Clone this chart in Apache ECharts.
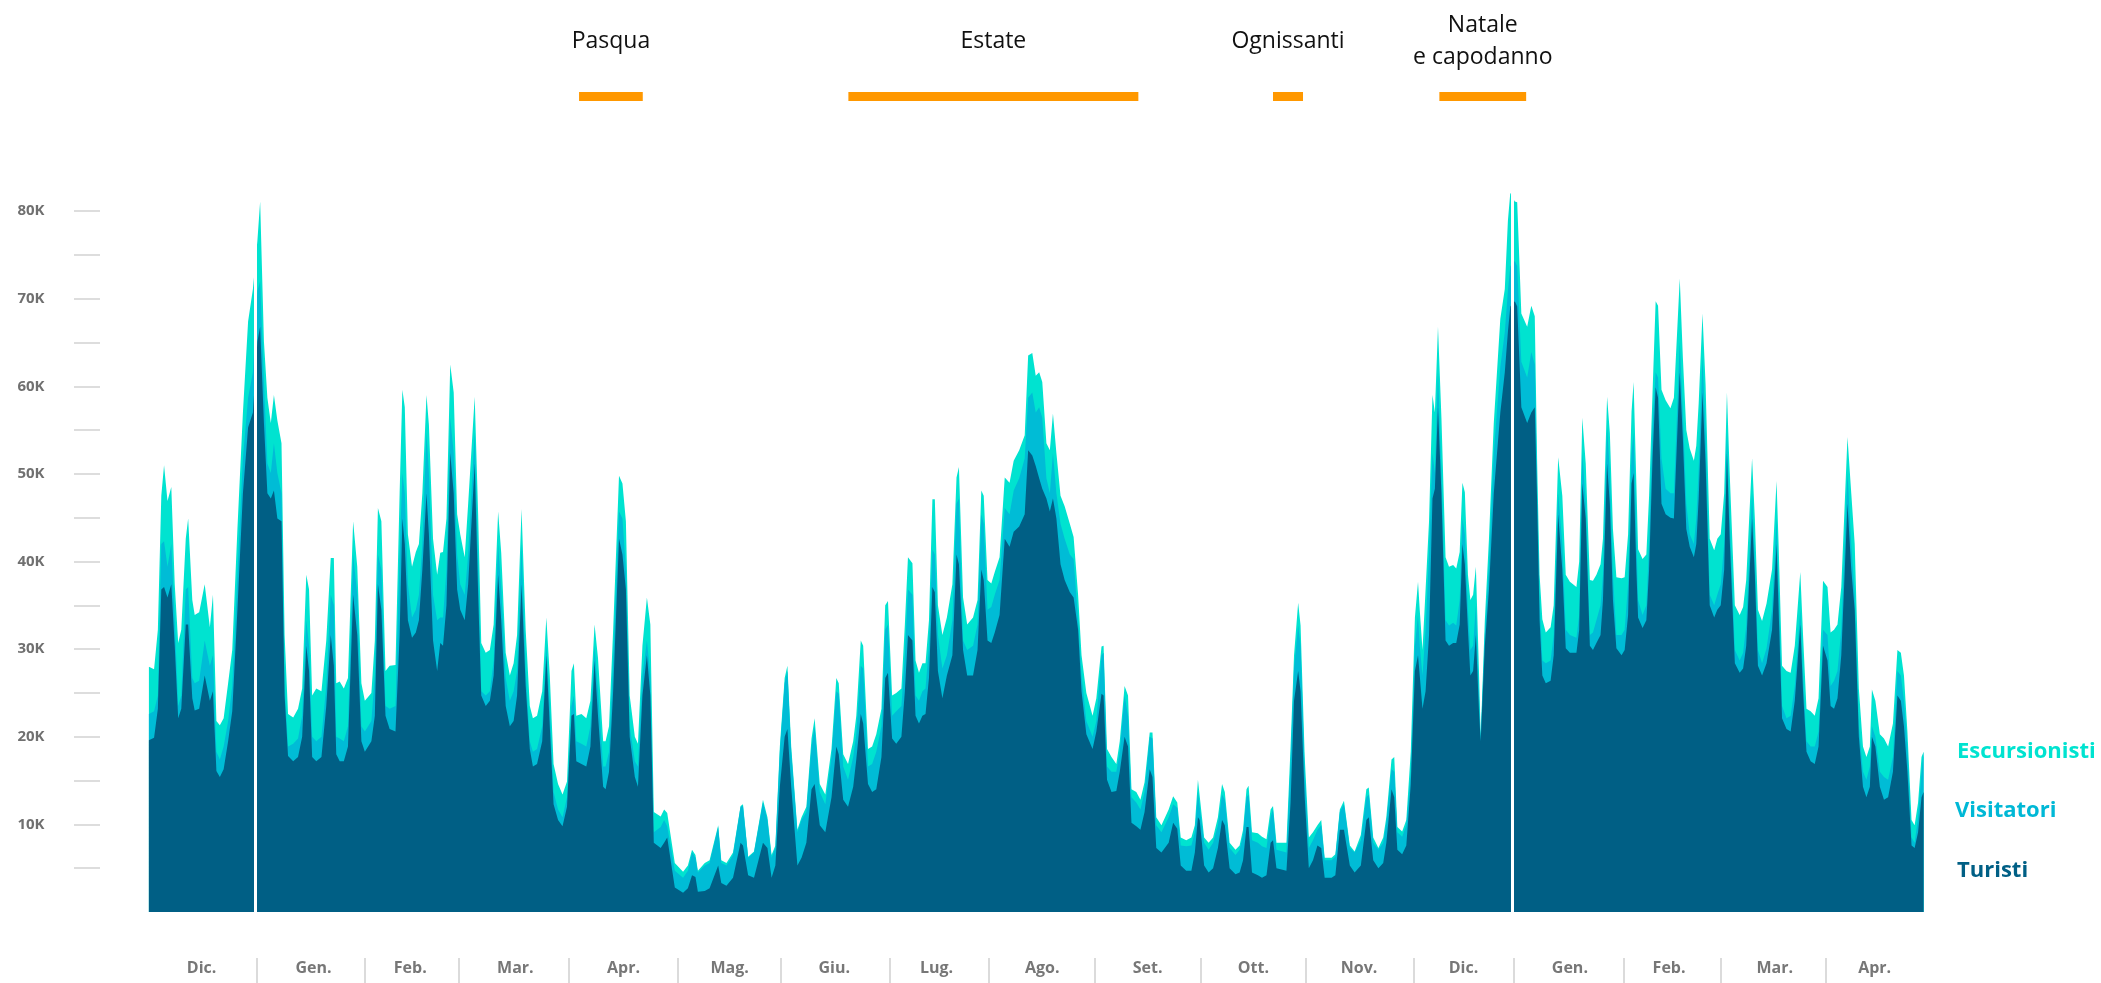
<!DOCTYPE html>
<html>
<head>
<meta charset="utf-8">
<script src="https://cdn.jsdelivr.net/npm/echarts@6/dist/echarts.min.js"></script>
<style>
  html, body { margin: 0; padding: 0; background: #fff; }
  #main { width: 2101px; height: 983px; }
</style>
</head>
<body>
<div id="main"></div>
<script>
// giorni dal 1 dicembre
const days = [
  0, 1.5, 2.6, 3.6, 4.4, 5.4, 6.5, 7.5, 8.5, 9.4,
  10.7, 11.4, 12.6, 13.3, 14.6, 16.2, 17.7, 18.6, 19.6, 20.6,
  21.7, 23, 24.2, 25.7, 27.3, 28.8, 30.2, 31.5, 32.3, 33.4,
  34.4, 35.4, 36.3, 37.3, 38.5, 39.4, 40.4, 41.9, 43.3, 44.5,
  45.7, 46.5, 47.4, 48.6, 50.1, 51.5, 52.8, 53.7, 54.4, 55.4,
  56.6, 57.8, 59.3, 60.5, 61.7, 62.7, 64.6, 65.6, 66.5, 67.5,
  68.7, 69.9, 71.6, 72.8, 73.6, 74.3, 75.2, 76.4, 77.5, 78.4,
  79.4, 80.6, 81.3, 82.5, 83.7, 84.6, 85.4, 86.4, 87.5, 88.5,
  89.5, 90.4, 91.7, 92.7, 94.6, 95.6, 96.5, 97.8, 99, 100.1,
  101.4, 102.3, 103.6, 104.8, 105.9, 106.9, 108.2, 109.4, 110.6, 111.5,
  112.7, 114.2, 115.4, 116.4, 117.5, 118.8, 120.1, 121.4, 122.7, 123.4,
  124.1, 125.6, 127, 128.2, 129.4, 130.4, 131.9, 132.6, 133.6, 134.8,
  136.5, 137.5, 138.5, 139.6, 141.1, 142, 143.3, 144.6, 145.6, 146.6,
  148.6, 149.6, 150.5, 152.7, 155.1, 156.5, 157.7, 158.7, 159.4, 161.4,
  162.8, 165.3, 166.2, 167.7, 169.6, 171.8, 172.5, 174, 175.7, 178.3,
  179.6, 180.8, 181.9, 183.2, 184.6, 185.4, 186.5, 188.3, 189.5, 190.9,
  192.4, 193.3, 194.8, 196.4, 198.2, 199.6, 200.3, 201.6, 203, 204.5,
  205.4, 206.7, 207.4, 208.8, 210, 211.2, 212.7, 213.8, 214.6, 215.8,
  217, 218.5, 219.5, 220.4, 221.7, 222.6, 223.6, 224.6, 225.5, 226.5,
  227.5, 228.2, 229.1, 230.4, 231.7, 233.3, 234.5, 235.2, 236.4, 237.6,
  239.3, 240.6, 241.7, 242.4, 243.5, 244.6, 245.6, 247, 248.5, 249.9,
  251.1, 252.7, 254.3, 255.3, 256.5, 257.5, 258.5, 259.4, 260.6, 261.6,
  262.5, 263.5, 264.7, 265.9, 267.4, 268.5, 269.8, 270.8, 272.2, 274,
  275.1, 276.6, 277.2, 278.2, 279.5, 280.9, 281.9, 283.3, 284.3, 285.3,
  286.7, 287.9, 289.1, 290.6, 291.4, 292.5, 294, 296.1, 297.4, 298.6,
  299.6, 301.2, 302.7, 303.7, 304.6, 305.1, 306.4, 307.7, 309, 310.4,
  311.6, 312.4, 313.8, 315.5, 316.7, 317.7, 318.7, 319.3, 320.3, 322,
  323.2, 324.5, 325.7, 326.4, 327.4, 330.3, 331.5, 332.5, 333.7, 334.4,
  335.6, 336.8, 338, 339.3, 340.4, 341.4, 343.4, 344.5, 345.8, 347,
  348.7, 350.1, 351.9, 353.5, 354.2, 355.5, 357, 358.4, 359.3, 360.8,
  361.6, 362.5, 363.9, 365.1, 366.4, 367.6, 368.5, 369, 369.8, 370.7,
  371.7, 372.7, 373.4, 374.3, 375.3, 376.5, 377.5, 378.7, 379.6, 380.6,
  381.4, 382.1, 383, 383.7, 384.5, 385.3, 386.2, 386.7, 387.9, 389.1,
  390.5, 392.4, 393.7, 394.6, 395.3, 396.6, 397.3, 398.5, 400.2, 401.4,
  402.4, 403.1, 403.8, 404.6, 405.6, 407, 407.9, 409.2, 410.4, 411.4,
  412.6, 414.5, 415.3, 416.2, 417.2, 418.4, 419.3, 420.3, 421.5, 422.2,
  423.4, 424.2, 425.1, 426.1, 427.6, 428.5, 429.5, 430.5, 431.1, 431.9,
  432.4, 433.7, 434.8, 435.6, 436.6, 437.5, 438.2, 439.2, 440.4, 441.8,
  442.8, 444.5, 445.4, 446.4, 447.4, 448.6, 449.3, 450, 451.1, 452,
  453.2, 454.5, 455.4, 456.4, 457.4, 458.2, 459, 460.5, 461.9, 462.9,
  463.8, 465.5, 466.3, 467.2, 468.4, 469.7, 471.3, 472.6, 473.2, 474.2,
  475.5, 476.7, 477.9, 479.5, 480.3, 481.3, 482.5, 483.7, 484.8, 486.1,
  487.4, 488.3, 489.3, 490.3, 491.4, 493.2, 494.3, 495.3, 496.5, 497.7,
  498.7, 499.7, 500.3, 501.3, 502.6, 503.8, 505, 506.4, 507.7, 508.7,
  509.6, 510.6, 511.8, 512.7, 513.7, 514.7, 515.3
]

// migliaia
const escursionisti = [
  28, 27.7, 32.2, 47.5, 51, 46.9, 48.5, 37.4, 30.7, 32.2,
  42.6, 44.9, 35.6, 33.9, 34.2, 37.4, 32.5, 36.2, 21.8, 21.3,
  22.1, 26.1, 29.9, 43.7, 57, 67.4, 71.1, 76.6, 81.1, 65.1,
  58.7, 55.8, 59, 56.1, 53.5, 31.6, 22.6, 22.2, 23.2, 25.5,
  38.5, 36.8, 24.7, 25.5, 25.2, 31, 40.4, 40.4, 26.1, 26.3,
  25.5, 26.7, 44.6, 39.4, 26.1, 24.1, 25, 31, 46.1, 44.6,
  27.5, 28.1, 28.2, 47.8, 59.6, 57.6, 43.1, 39.4, 41.1, 42,
  47.8, 59, 55.6, 42.6, 38.5, 41, 41.1, 44.9, 62.5, 59.3,
  45.4, 43.1, 40.5, 46.6, 58.8, 45.4, 30.7, 29.6, 29.9, 32.8,
  45.7, 41, 29.6, 27, 28.4, 31.6, 46, 32.2, 23.5, 22.1,
  22.4, 25.2, 33.6, 27, 16.9, 14.6, 13.4, 14.9, 27.5, 28.4,
  22.4, 22.6, 22.1, 24.1, 32.8, 29, 19.5, 19.5, 21.2, 32.2,
  49.8, 48.9, 44.6, 24.7, 20, 19.2, 30.4, 35.9, 32.8, 11.4,
  10.9, 11.7, 11.3, 5.6, 4.6, 5.3, 7.1, 6.5, 4.7, 5.6,
  5.9, 9.9, 5.9, 5.6, 6.8, 12.1, 12.3, 6.3, 6.9, 12.8,
  10.8, 6.5, 7.6, 18.9, 26.7, 28.1, 18.9, 9.4, 10.8, 12,
  19.8, 22.1, 14.6, 13.4, 18.6, 26.7, 26.1, 18, 16.9, 19.5,
  22.4, 31, 30.4, 18.6, 18.9, 20.3, 23.2, 35, 35.5, 24.7,
  25, 25.5, 32.8, 40.5, 39.8, 28.7, 27.3, 28.4, 28.4, 33.3,
  47.1, 47.1, 35, 31.6, 33.6, 37.4, 49.6, 50.8, 35.9, 32.8,
  33.6, 35.6, 48.1, 47.5, 37.9, 37.5, 38.8, 40.5, 49.6, 49,
  51.5, 52.7, 54.4, 63.5, 63.8, 61.2, 61.6, 60.5, 53.5, 52.7,
  56.9, 52.4, 47.5, 46.3, 44.3, 42.8, 36.2, 29.3, 25, 22.4,
  24.4, 30.3, 30.4, 18.6, 17.7, 16.9, 19.5, 25.8, 24.7, 14,
  13.7, 12.8, 14.8, 20.5, 20.5, 10.8, 9.9, 11.7, 13.2, 12.5,
  8.5, 8.2, 8.5, 9.9, 15.1, 15.1, 8.5, 7.9, 8.5, 10.8,
  14.6, 13.7, 7.9, 7.1, 7.6, 9.4, 14, 14.4, 9.1, 9,
  8.6, 8.3, 11.7, 12.1, 7.9, 7.9, 18.9, 29.3, 35.3, 32.7,
  17.7, 8.5, 9.1, 9.9, 10.5, 6.2, 6.2, 6.6, 11.7, 12.7,
  7.6, 6.9, 8.8, 14, 14.2, 8.5, 7.3, 8.5, 10.8, 17.4,
  17.7, 9.7, 9.2, 10.5, 18.3, 33.6, 37.7, 34.5, 29.9, 36.8,
  44.6, 59, 57, 66.8, 56.4, 40.5, 39.4, 39.6, 39.2, 41.1,
  49, 47.9, 38.5, 35.6, 36.2, 39.4, 27.5, 20, 33.3, 42.6,
  55.8, 67.7, 71.1, 78.9, 82.1, 81.1, 81, 68.3, 66.8, 69.2,
  68, 51.2, 38.5, 33.4, 31.9, 32.5, 35, 51.9, 47.5, 38.5,
  37.7, 37.1, 40, 56.4, 51.2, 37.9, 37.8, 38.5, 39.7, 42.6,
  58.8, 54.7, 43.7, 38.2, 38.1, 38.2, 43.1, 57.1, 60.5, 48.9,
  41.4, 40.3, 40.8, 47.5, 59.3, 69.7, 69.2, 59.6, 58.4, 57.5,
  58.7, 72.3, 63.3, 55, 52.9, 51.5, 53.2, 58.1, 68.3, 60.2,
  42.6, 41.3, 42.6, 43.1, 47.8, 59.3, 50.1, 35, 33.9, 34.8,
  37.9, 51.8, 44.9, 34.5, 33.2, 35.2, 39.1, 49.2, 42, 28.1,
  27.5, 27.3, 30.4, 38.8, 31.6, 23.2, 22.9, 22.4, 24.4, 37.8,
  37.1, 31.9, 32.2, 32.8, 37.1, 54.2, 47.8, 42, 25.5, 18.9,
  17.7, 18.9, 25.4, 24.1, 20.3, 19.8, 18.9, 21.5, 29.9, 29.6,
  27, 20.6, 10.5, 9.9, 12.5, 17.7, 18.3
]

const visitatori = [
  22.6, 22.9, 24.7, 42, 42.3, 39.4, 42, 33.3, 23.5, 24.7,
  36.8, 37.1, 26.7, 26.1, 26.4, 31, 28.1, 29.3, 18.3, 17.4,
  18.9, 21.8, 25.8, 38.5, 51.8, 58.7, 61.6, 70.9, 72, 60.5,
  51.2, 50.1, 53.5, 50.1, 47.8, 25.8, 18.9, 19.2, 19.8, 22.4,
  33.3, 30.4, 20, 19.5, 20, 25.8, 36.2, 35, 20, 19.8,
  19.5, 21.2, 40.8, 36.2, 21.2, 20.6, 21.8, 27, 40.8, 39.1,
  23.5, 23.2, 23.5, 40.8, 50.1, 47.8, 37.4, 33.6, 34.5, 36.2,
  42, 54.7, 50.1, 36.2, 33.3, 33.6, 33.6, 39.1, 56.4, 52.4,
  40.8, 37.4, 36.2, 40.8, 54.7, 39.7, 25.2, 24.7, 25.2, 28.7,
  42, 36.8, 26.7, 24.1, 25.2, 27.5, 42, 27.5, 19.5, 18.3,
  18.6, 21.2, 30.4, 23.5, 13.7, 11.7, 10.8, 13.1, 23.5, 24.7,
  19.5, 19.2, 18.9, 21.2, 30.4, 25.2, 16.6, 16.6, 18.3, 28.7,
  45.7, 44.9, 39.1, 21.2, 17.2, 16.6, 27, 31, 27, 9.1,
  9.7, 10.5, 9.8, 4.7, 3.9, 4.7, 6.8, 6.2, 4.5, 5.3,
  5.6, 9.7, 5.6, 5.3, 6.5, 12, 12.1, 6.2, 6.8, 12.5,
  10.5, 6.2, 7.3, 18.3, 26.1, 27.5, 18.3, 9.1, 10.5, 11.4,
  18.9, 21.2, 13.7, 12.3, 17.7, 25.2, 24.9, 16.6, 15.1, 17.7,
  20.3, 28.1, 27.8, 16.6, 16.9, 18.3, 21.2, 32.2, 32.8, 22.4,
  22.9, 23.5, 29.3, 36.8, 36.2, 24.7, 24.1, 25.2, 25.5, 30.4,
  41.4, 40.8, 31.6, 27.8, 29.3, 33.3, 46.6, 47.2, 31, 29.9,
  30.4, 32.8, 45.4, 44.3, 34.5, 34.8, 36.2, 37.9, 46.1, 45.4,
  48.1, 49.5, 51.8, 58.7, 59.3, 57, 57.6, 56.4, 49.5, 47.8,
  52.4, 47.8, 44.3, 42.6, 40.8, 40.3, 33.3, 27, 21.8, 20,
  21.8, 29.3, 29.6, 16.6, 16, 16, 18.3, 24.7, 22.4, 13.1,
  12.5, 11.7, 13.7, 20, 19.8, 9.9, 9.1, 10.8, 12.3, 11.9,
  7.6, 7.5, 7.6, 9.1, 13.7, 13.7, 7.9, 7.1, 7.9, 9.9,
  13.4, 12.8, 7.3, 6.5, 7.1, 8.8, 13.1, 13.4, 8.2, 7.9,
  7.5, 7.3, 10.8, 11.7, 7.1, 6.8, 17.2, 27.8, 32.7, 30.4,
  16, 7.3, 8.2, 9.4, 9.9, 5.9, 5.9, 6.3, 11.4, 12.3,
  7.3, 6.8, 8.2, 13.1, 13.4, 7.9, 7.1, 7.9, 10.2, 16.3,
  16, 9.1, 8.6, 9.9, 16, 30.4, 33.9, 30.4, 27, 32.2,
  40.8, 52.4, 50.1, 61.6, 50.1, 33.3, 32.7, 33, 32.7, 35.6,
  44.9, 43.1, 34.5, 29.9, 30.4, 35, 24.7, 19.8, 31.6, 39.7,
  52.4, 62.2, 66.2, 70.9, 73.7, 74.3, 73.7, 62.8, 61, 63.9,
  62.5, 47.8, 35.6, 28.7, 28.4, 28.7, 31.6, 47.8, 42, 32.2,
  31.6, 31.3, 33.9, 52.4, 46.6, 31.6, 31.9, 33.3, 35, 38.5,
  55.3, 50.1, 38.5, 31.6, 31.6, 32.2, 37.4, 52.4, 54.7, 43.1,
  35.6, 33.9, 35, 42, 55.3, 61.6, 61, 51.8, 48.3, 47.8,
  47.8, 65.1, 57, 46.6, 43.1, 42, 44.9, 50.6, 63.4, 54.7,
  36.2, 35, 36.2, 37.4, 42, 54.7, 44.9, 29.9, 28.7, 29.6,
  32.7, 47.8, 40.3, 29.9, 28.4, 30.1, 34.5, 44.9, 37.4, 23.5,
  22.1, 22.4, 25.8, 34.5, 27, 19.5, 18.9, 18.9, 20.6, 32.2,
  31.6, 25.8, 26.4, 27.5, 32.2, 50.1, 42, 36.2, 21.2, 16,
  15.1, 16.6, 21.2, 20, 16, 15.4, 15.1, 17.7, 27.5, 27,
  24.1, 18.9, 8.5, 7.9, 10.8, 16, 18.3
]

const turisti = [
  19.6, 19.9, 23.2, 36.8, 37.1, 35.9, 37.4, 30.4, 22.1, 23.2,
  32.8, 32.8, 24.4, 23, 23.2, 27, 24.1, 25.2, 16.1, 15.4,
  16.3, 19.5, 22.9, 34.5, 47.8, 55.3, 57, 65.1, 66.8, 55.8,
  47.8, 47.2, 48.1, 44.9, 44.6, 24.7, 17.8, 17.2, 17.7, 20,
  30.4, 27.5, 17.7, 17.2, 17.7, 23.5, 31.6, 28.1, 18, 17.2,
  17.2, 18.9, 36.2, 31.6, 19.5, 18.3, 19.5, 22.4, 37.4, 34.5,
  22.4, 20.9, 20.6, 31.6, 44.9, 42, 33.3, 31.3, 31.9, 33.3,
  39.1, 47.8, 43.1, 31, 27.5, 30.7, 30.4, 35, 52.4, 47.8,
  36.8, 34.5, 33.3, 37.4, 51.2, 36.2, 24.7, 23.5, 24.1, 27,
  38.5, 33.3, 23.5, 21.2, 21.8, 24.7, 37.4, 25.8, 18.6, 16.6,
  16.9, 19.5, 29.3, 21.2, 12.3, 10.5, 9.8, 12, 22.4, 22.6,
  17.2, 16.9, 16.6, 18.9, 28.7, 22.4, 14.3, 14, 16, 25.2,
  42.6, 40.8, 36.8, 20, 15.4, 14.3, 24.7, 29.3, 24.7, 7.9,
  7.3, 7.9, 8.5, 2.8, 2.2, 2.7, 4.2, 4, 2.3, 2.4,
  2.7, 5.3, 3.3, 3, 3.9, 7.9, 7.6, 4.2, 3.9, 7.9,
  7.3, 3.9, 5.3, 14.3, 20, 20.9, 14.3, 5.3, 6.2, 7.9,
  14, 14.6, 9.9, 9.1, 13.1, 18.9, 18, 12.8, 12, 14.3,
  17.4, 22.6, 21.5, 14.6, 13.7, 14, 17.7, 26.7, 27.3, 19.8,
  19.2, 20, 25.2, 31.6, 31, 22.4, 21.5, 22.4, 22.6, 26.7,
  37.1, 36.5, 27.5, 24.4, 27, 29.3, 40.8, 39.7, 29.9, 27,
  27, 29.9, 39.1, 37.9, 31, 30.7, 31.9, 33.9, 42.6, 41.7,
  43.4, 44, 45.4, 52.7, 52.1, 50.9, 49.5, 48.3, 47.2, 45.7,
  47.2, 44.9, 39.7, 37.9, 36.5, 35.9, 32.2, 25.2, 20.3, 18.6,
  20.6, 24.9, 24.7, 15.1, 13.7, 13.8, 16, 20, 18.9, 10.2,
  9.8, 9.4, 11.4, 16.3, 15.4, 7.3, 6.8, 7.9, 10.2, 9.5,
  5.3, 4.7, 4.7, 6.8, 10.8, 10.5, 5.3, 4.5, 5, 7.3,
  10.5, 9.9, 5, 4.3, 4.5, 5.9, 9.7, 9.7, 4.5, 4.2,
  3.9, 4.2, 7.9, 8.2, 5, 4.7, 12.5, 24.1, 27.5, 25.2,
  13.1, 5, 5.9, 7.6, 7.3, 3.9, 3.9, 4.2, 9.4, 9.4,
  5.3, 4.5, 5.3, 10.5, 10.8, 5.9, 5, 5.6, 7.9, 14,
  13.1, 7.1, 6.6, 7.6, 14.6, 27.5, 29.3, 27, 23.2, 25.2,
  31.6, 47.2, 48.3, 57.6, 47.8, 31, 30.4, 30.7, 30.7, 32.8,
  42, 39.7, 32.2, 27, 27.5, 31.6, 22.9, 19.5, 30.4, 36.8,
  47.8, 57, 61.6, 66.2, 69.1, 69.7, 69.1, 57.6, 55.8, 57,
  57.6, 46.6, 33.3, 27, 26.1, 26.4, 29.3, 45.4, 39.1, 30.1,
  29.6, 29.6, 32.2, 48.9, 44.9, 30.4, 29.9, 30.7, 31.6, 35.6,
  51.2, 46.6, 35.6, 30.1, 29.3, 29.9, 33.9, 48.9, 50.1, 39.1,
  33.6, 32.4, 33.3, 39.1, 51.8, 59.9, 58.7, 46.6, 45.4, 45,
  44.9, 61.6, 54.1, 43.7, 41.7, 40.5, 42, 47.2, 59.3, 51.2,
  35, 33.6, 34.5, 35, 39.1, 52.4, 42.6, 28.4, 27.3, 27.8,
  30.4, 44.9, 38.5, 28.1, 27, 28.4, 32.2, 42, 34.5, 22.1,
  20.9, 20.6, 24.1, 32.8, 25.2, 18.3, 17.2, 16.9, 18.9, 30.4,
  28.7, 23.5, 23.2, 24.4, 29.3, 46.6, 39.1, 34.5, 20, 14.3,
  13.1, 14.3, 20, 18.9, 14.3, 12.8, 13.1, 16, 24.7, 24.1,
  21.2, 16, 7.6, 7.3, 9.1, 13.1, 13.7
]

// asse dei mesi
const monthNames = ['Dic.', 'Gen.', 'Feb.', 'Mar.', 'Apr.', 'Mag.', 'Giu.', 'Lug.', 'Ago.',
  'Set.', 'Ott.', 'Nov.', 'Dic.', 'Gen.', 'Feb.', 'Mar.', 'Apr.']
const monthCenters = [15.3, 47.8, 75.9, 106.4, 137.8, 168.6, 199, 228.7, 259.4,
  290, 320.7, 351.4, 381.7, 412.6, 441.4, 472.1, 501.1]
const monthBreaks = [31.2, 62.7, 90.1, 122, 153.5, 183.4, 215.2, 244, 274.7,
  305.5, 335.9, 367.4, 396.2, 428.3, 456.5, 486.8]
const newYears = [31, 396]

// periodi di vacanza
const holidayNames = ['Pasqua', 'Estate', 'Ognissanti', 'Natale\ne capodanno']
const holidayStart = [124.9, 203.1, 326.4, 374.7]
const holidayEnd = [143.4, 287.3, 335.1, 399.9]

const yTicks = [5, 10, 15, 20, 25, 30, 35, 40, 45, 50, 55, 60, 65, 70, 75, 80]
const yLabels = [10, 20, 30, 40, 50, 60, 70, 80]

// l'asse x parte un po' prima del 1 dicembre per lasciare spazio alle tacche dell'asse y
const X_MIN = -14.2
const X_MAX = 516

const chart = echarts.init(document.getElementById('main'))

function pairs(values) {
  return days.map((d, i) => [d, values[i]])
}

function areaSeries(name, values, color, extra) {
  return Object.assign({
    name: name,
    type: 'line',
    xAxisIndex: 0,
    yAxisIndex: 0,
    data: pairs(values),
    symbol: 'none',
    smooth: false,
    lineStyle: { width: 0 },
    areaStyle: { color: color, opacity: 1 },
    silent: true
  }, extra || {})
}

chart.setOption({
  animation: false,
  backgroundColor: '#fff',
  title: [
    { text: 'Escursionisti', left: 1952, top: 736, textStyle: { color: '#00e3d0', fontSize: 22, fontWeight: 'bold', fontFamily: 'Open Sans' } },
    { text: 'Visitatori', left: 1950, top: 795, textStyle: { color: '#00b8d6', fontSize: 22, fontWeight: 'bold', fontFamily: 'Open Sans' } },
    { text: 'Turisti', left: 1952, top: 855, textStyle: { color: '#005f85', fontSize: 22, fontWeight: 'bold', fontFamily: 'Open Sans' } }
  ],
  grid: [
    { left: 100, right: 175, top: 176, bottom: 71 },
    { left: 100, right: 175, top: 92, height: 9 }
  ],
  xAxis: [
    { type: 'value', gridIndex: 0, min: X_MIN, max: X_MAX, show: false },
    {
      type: 'value', gridIndex: 0, min: X_MIN, max: X_MAX, position: 'bottom', offset: 46,
      axisLine: { show: false, onZero: false },
      splitLine: { show: false },
      axisTick: { show: true, customValues: monthBreaks, length: 25, lineStyle: { color: '#cfcfcf', width: 1.5 } },
      axisLabel: {
        customValues: monthCenters,
        margin: 2,
        color: '#777',
        fontSize: 16,
        fontWeight: 'bold',
        fontFamily: 'Open Sans',
        formatter: function (v) {
          let best = 0
          monthCenters.forEach((c, i) => { if (Math.abs(c - v) < Math.abs(monthCenters[best] - v)) best = i })
          return monthNames[best]
        }
      }
    },
    { type: 'value', gridIndex: 1, min: X_MIN, max: X_MAX, show: false }
  ],
  yAxis: [
    {
      type: 'value', gridIndex: 0, min: 0, max: 84, position: 'left',
      axisLine: { show: false, onZero: false },
      splitLine: { show: false },
      axisTick: { show: true, customValues: yTicks, length: 26, lineStyle: { color: '#d2d2d2', width: 1.5 } },
      axisLabel: {
        customValues: yLabels,
        margin: 69,
        align: 'center',
        color: '#707070',
        fontSize: 15,
        fontWeight: 'bold',
        fontFamily: 'Open Sans',
        formatter: v => v + 'K'
      }
    },
    { type: 'value', gridIndex: 1, min: 0, max: 1, show: false }
  ],
  series: [
    areaSeries('Escursionisti', escursionisti, '#00e3d0'),
    areaSeries('Visitatori', visitatori, '#00bcd6'),
    areaSeries('Turisti', turisti, '#005f85', {
      markLine: {
        silent: true,
        symbol: 'none',
        label: { show: false },
        lineStyle: { color: '#fff', width: 3, type: 'solid' },
        data: newYears.map(d => ({ xAxis: d }))
      }
    }),
    {
      type: 'custom',
      xAxisIndex: 2,
      yAxisIndex: 1,
      silent: true,
      data: holidayStart.map((s, i) => [s, holidayEnd[i]]),
      encode: { x: [0, 1] },
      renderItem: function (params, api) {
        const a = api.coord([api.value(0), 1])
        const b = api.coord([api.value(1), 0])
        return {
          type: 'group',
          children: [
            { type: 'rect', shape: { x: a[0], y: a[1], width: b[0] - a[0], height: b[1] - a[1] }, style: { fill: '#ff9800' } },
            {
              type: 'text',
              style: {
                text: holidayNames[params.dataIndex],
                x: (a[0] + b[0]) / 2,
                y: a[1] - 51,
                align: 'center',
                verticalAlign: 'middle',
                fontSize: 23,
                fontFamily: 'Open Sans',
                lineHeight: 32,
                fill: '#111'
              }
            }
          ]
        }
      }
    }
  ]
})
</script>
</body>
</html>
